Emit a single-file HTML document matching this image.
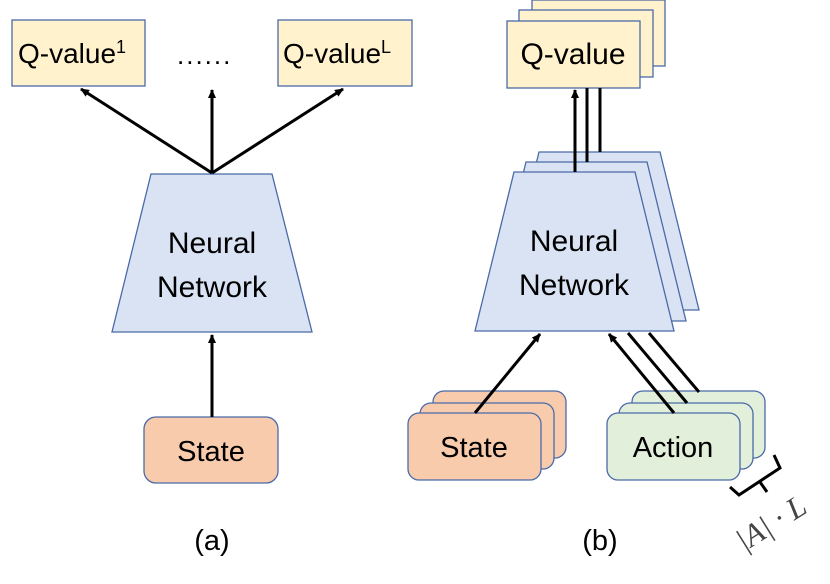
<!DOCTYPE html>
<html><head><style>body{margin:0;background:#fff}</style></head><body>
<svg width="830" height="579" viewBox="0 0 830 579" xmlns="http://www.w3.org/2000/svg" font-family="'Liberation Sans', 'DejaVu Sans', sans-serif">
<defs><marker id="ah" markerWidth="10" markerHeight="10" refX="8" refY="5" orient="auto" markerUnits="userSpaceOnUse"><path d="M0,1 L9,5 L0,9 Z" fill="#000"/></marker></defs>
<g stroke="#4a6aa8" stroke-width="1.3">
<!-- (a) -->
<rect x="12" y="20" width="133" height="66" fill="#fff2cc"/>
<rect x="278" y="20" width="134" height="66" fill="#fff2cc"/>
<polygon points="151,174 272,174 312,332 112,332" fill="#dae3f3"/>
<rect x="144" y="417" width="134" height="66" rx="12" fill="#f8cbad"/>
<!-- (b) -->
<rect x="532" y="0" width="133" height="66" fill="#fff2cc"/>
<rect x="519" y="10" width="134" height="67" fill="#fff2cc"/>
<rect x="507" y="21" width="133" height="67" fill="#fff2cc"/>
<polygon points="539,152 660,152 699,310 500,310" fill="#dae3f3"/>
<polygon points="526,162 647,162 686,321 487,321" fill="#dae3f3"/>
<polygon points="514,172 635,172 674,331 475,331" fill="#dae3f3"/>
<rect x="433" y="391" width="133" height="67" rx="11" fill="#f8cbad"/>
<rect x="420" y="403" width="134" height="66" rx="11" fill="#f8cbad"/>
<rect x="408" y="413" width="133" height="67" rx="11" fill="#f8cbad"/>
<rect x="632" y="391" width="133" height="67" rx="11" fill="#e2efda"/>
<rect x="619" y="403" width="134" height="66" rx="11" fill="#e2efda"/>
<rect x="607" y="413" width="133" height="67" rx="11" fill="#e2efda"/>
</g>
<g stroke="#000" stroke-width="3" fill="none">
<line x1="212" y1="173" x2="81" y2="89" marker-end="url(#ah)"/>
<line x1="212" y1="173" x2="212" y2="90" marker-end="url(#ah)"/>
<line x1="212" y1="173" x2="343" y2="89" marker-end="url(#ah)"/>
<line x1="212" y1="417" x2="212" y2="335" marker-end="url(#ah)"/>
<line x1="575" y1="172" x2="575" y2="90" marker-end="url(#ah)"/>
<line x1="587" y1="162" x2="587" y2="88"/>
<line x1="600" y1="152" x2="600" y2="88"/>
<line x1="475" y1="413" x2="540" y2="334" marker-end="url(#ah)"/>
<line x1="674" y1="413" x2="609" y2="334" marker-end="url(#ah)"/>
<line x1="687" y1="403" x2="628" y2="333"/>
<line x1="699" y1="392" x2="649" y2="333"/>
<path d="M730,487 L739,495 L780,468 L774,455 M760,482 L767,492"/>
</g>
<g font-size="28" fill="#000">
<text x="18" y="63">Q-value<tspan font-size="18" dy="-10">1</tspan></text>
<text x="283" y="63">Q-value<tspan font-size="18" dy="-10">L</tspan></text>
<text x="177" y="64" font-size="26" letter-spacing="2">......</text>
<text x="212" y="253" text-anchor="middle" font-size="30">Neural</text>
<text x="212" y="297" text-anchor="middle" font-size="30">Network</text>
<text x="211" y="461" text-anchor="middle" font-size="29">State</text>
<text x="212" y="550" text-anchor="middle" font-size="29">(a)</text>
<text x="573" y="64" text-anchor="middle" font-size="30">Q-value</text>
<text x="574" y="251" text-anchor="middle" font-size="30">Neural</text>
<text x="574" y="295" text-anchor="middle" font-size="30">Network</text>
<text x="474" y="457" text-anchor="middle" font-size="29">State</text>
<text x="673" y="457" text-anchor="middle" font-size="29">Action</text>
<text x="600" y="550" text-anchor="middle" font-size="29">(b)</text>
<text x="0" y="0" font-family="'Liberation Serif', serif" font-style="italic" font-size="31" fill="#444" transform="translate(744,552) rotate(-32)">|A| · L</text>
</g>
</svg>
</body></html>
